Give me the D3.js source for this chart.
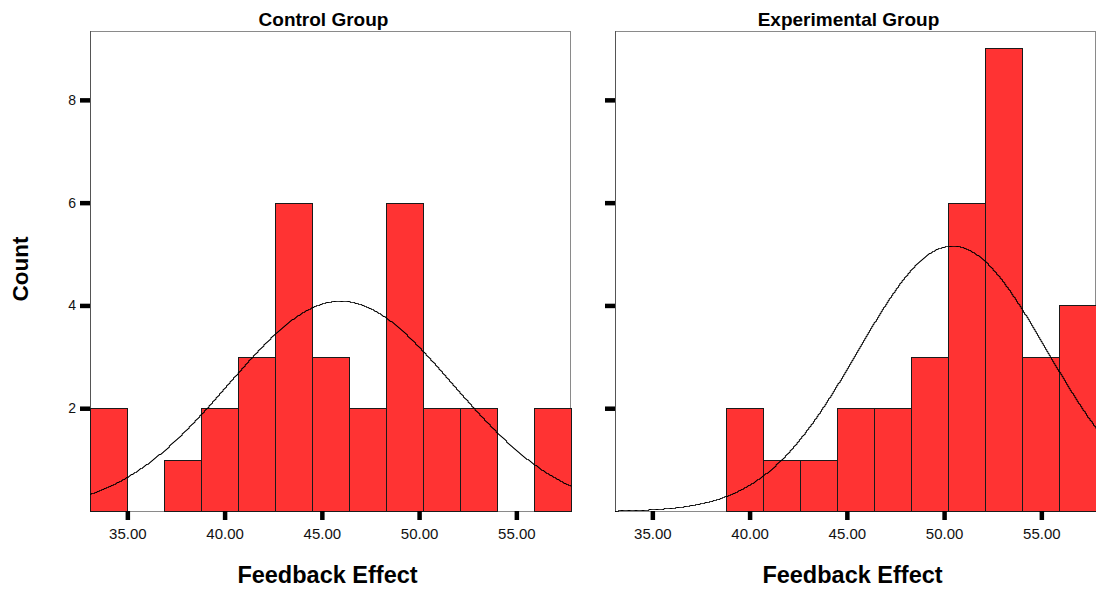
<!DOCTYPE html>
<html lang="en">
	<head>
		<meta charset="utf-8">
		<title>Feedback Effect histograms</title>
		<script type="text/javascript" src="https://cdn.jsdelivr.net/npm/d3@7"></script>
		<style type="text/css">
			body {
				margin: 0;
				background: white;
			}
			.axis path {
				display: none;
			}
			.axis line {
				stroke: black;
				stroke-width: 4.5;
			}
			.axis text {
				font-family: "Liberation Sans", Arial, sans-serif;
				fill: #111;
			}
			.title, .label {
				font-family: "Liberation Sans", Arial, sans-serif;
				font-weight: bold;
				fill: black;
			}
		</style>
	</head>
	<body>
		<script type="text/javascript">

			//SVG width and height
			var w = 1096;
			var h = 590;

			// Histogram bins (lower edges) and the top edge of the last bin
			var binStarts = [33.08, 34.98, 36.88, 38.79, 40.69, 42.59, 44.49, 46.39, 48.30, 50.20, 52.10, 54.00, 55.91];
			var binEnd = 57.81;

			// Counts per bin for each group
			var controlCounts = [2, 0, 1, 2, 3, 6, 3, 2, 6, 2, 2, 0, 2];
			var experimentalCounts = [0, 0, 0, 2, 1, 1, 2, 2, 3, 6, 9, 3, 4];

			// Fitted normal curve parameters (mean, sd)
			var controlFit = [45.94, 5.75];
			var experimentalFit = [50.41, 4.85];

			// Tick labels
			var xTicks = [35, 40, 45, 50, 55];
			var yTicks = [2, 4, 6, 8];

			var panels = [
				{ title: "Control Group", counts: controlCounts, fit: controlFit, x0: 90, x1: 571, showLabels: true },
				{ title: "Experimental Group", counts: experimentalCounts, fit: experimentalFit, x0: 615, x1: 1096, showLabels: false }
			];

			// plot area (note: "top" is reserved on window)
			var plotTop = 31;
			var plotBottom = 511;
			var yMax = 9.34;

			var svg = d3.select("body")
						.append("svg")
						.attr("width", w)
						.attr("height", h);

			var yScale = d3.scaleLinear()
							.domain([0, yMax])
							.range([plotBottom, plotTop]);

			panels.forEach(function(p) {

				var xScale = d3.scaleLinear()
								.domain([binStarts[0], binEnd])
								.range([p.x0, p.x1]);

				var g = svg.append("g").attr("class", "panel");

				// frame
				g.append("rect")
					.attr("x", p.x0 + 0.5)
					.attr("y", plotTop + 0.5)
					.attr("width", p.x1 - p.x0 - 1)
					.attr("height", plotBottom - plotTop)
					.attr("fill", "white")
					.attr("stroke", "#8a8a8a")
					.attr("stroke-width", 1);

				// left edge a bit darker
				g.append("line")
					.attr("x1", p.x0 + 0.5)
					.attr("x2", p.x0 + 0.5)
					.attr("y1", plotTop)
					.attr("y2", plotBottom)
					.attr("stroke", "#555")
					.attr("stroke-width", 1);

				// bars
				var bins = binStarts.map(function(s, i) {
					var e = i < binStarts.length - 1 ? binStarts[i + 1] : binEnd;
					return { x0: s, x1: e, n: p.counts[i] };
				});
				g.append("g")
					.selectAll("rect")
					.data(bins.filter(function(d) { return d.n > 0; }))
					.enter()
					.append("rect")
					.attr("x", function(d) { return Math.round(xScale(d.x0)) + 0.5; })
					.attr("y", function(d) { return Math.round(yScale(d.n)) + 0.5; })
					.attr("width", function(d) { return Math.round(xScale(d.x1)) - Math.round(xScale(d.x0)); })
					.attr("height", function(d) { return Math.round(yScale(0)) - Math.round(yScale(d.n)); })
					.attr("fill", "#ff3333")
					.attr("stroke", "#1a1a1a")
					.attr("stroke-width", 1);

				// normal curve scaled to counts
				var total = d3.sum(p.counts);
				var bw = (binEnd - binStarts[0]) / binStarts.length;
				var mu = p.fit[0], sd = p.fit[1];
				var pts = d3.range(binStarts[0], binEnd + 0.001, 0.06).map(function(x) {
					var z = (x - mu) / sd;
					return [x, total * bw / (sd * Math.sqrt(2 * Math.PI)) * Math.exp(-0.5 * z * z)];
				});
				var line = d3.line()
							.x(function(d) { return xScale(d[0]); })
							.y(function(d) { return Math.round(yScale(d[1])) + 0.5; })
							.curve(d3.curveStepAfter);
				g.append("path")
					.datum(pts)
					.attr("d", line)
					.attr("fill", "none")
					.attr("stroke", "black")
					.attr("stroke-width", 1);

				// x axis
				var xAxis = d3.axisBottom(xScale)
								.tickValues(xTicks)
								.tickFormat(d3.format(".2f"))
								.tickSize(9)
								.tickPadding(8);
				g.append("g")
					.attr("class", "x axis")
					.attr("transform", "translate(0," + plotBottom + ")")
					.call(xAxis)
					.selectAll("text")
					.style("font-size", "15px");

				// y axis
				var yAxis = d3.axisLeft(yScale)
								.tickValues(yTicks)
								.tickSize(10)
								.tickPadding(4)
								.tickFormat(p.showLabels ? d3.format("d") : function() { return ""; });
				g.append("g")
					.attr("class", "y axis")
					.attr("transform", "translate(" + p.x0 + ",0)")
					.call(yAxis)
					.selectAll("text")
					.style("font-size", "14px");

				// panel title
				g.append("text")
					.attr("class", "title")
					.attr("x", (p.x0 + p.x1) / 2 - 7)
					.attr("y", 26)
					.attr("text-anchor", "middle")
					.style("font-size", "19px")
					.text(p.title);

				// x axis label
				g.append("text")
					.attr("class", "label")
					.attr("x", (p.x0 + p.x1) / 2 - 3)
					.attr("y", 583)
					.attr("text-anchor", "middle")
					.style("font-size", "23.5px")
					.text("Feedback Effect");
			});

			// y axis label
			svg.append("text")
				.attr("class", "label")
				.attr("transform", "translate(27.5,269) rotate(-90)")
				.attr("text-anchor", "middle")
				.style("font-size", "22.5px")
				.text("Count");

		</script>
	</body>
</html>
